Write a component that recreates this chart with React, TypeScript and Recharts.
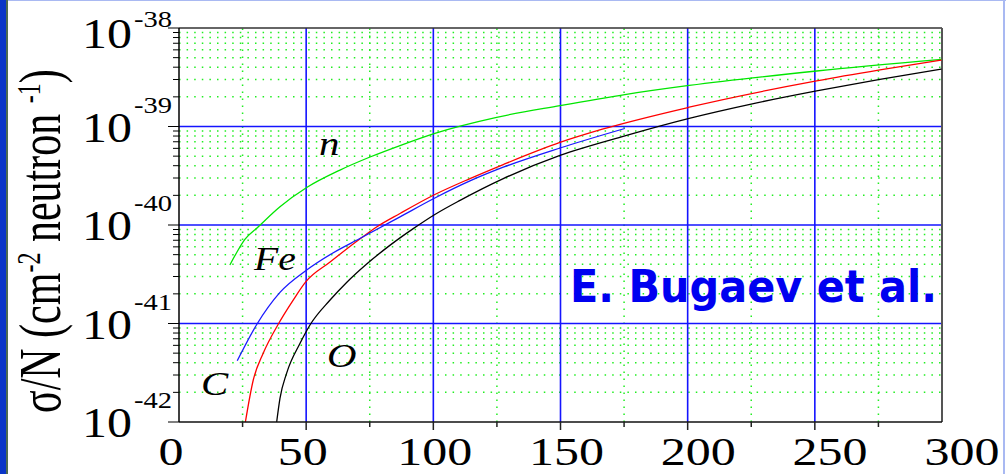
import React from 'react';
import { LineChart, Line, XAxis, YAxis, ReferenceLine } from 'recharts';

// neutrino cross section per neutron, cm^2, vs energy (GeV)
const nX = [20.0, 22.8, 25.9, 31.2, 39.7, 50.2, 63.3, 75.1, 86.9, 100.6, 124.9, 149.8, 175.3, 200.6, 250.7, 299.8];
const nSigma = [3.93e-41, 5.32e-41, 7.13e-41, 9.61e-41, 1.53e-40, 2.4e-40, 3.61e-40, 4.9e-40, 6.41e-40, 8.53e-40, 1.24e-39, 1.63e-39, 2.11e-39, 2.61e-39, 3.66e-39, 4.81e-39];

const cX = [26.1, 29.2, 33.1, 39.0, 44.9, 49.9, 59.4, 71.1, 77.7, 86.9, 100.6, 114.4, 127.5, 149.8, 166.8, 200.6, 250.7, 275.6, 299.8];
const cSigma = [1.0e-42, 2.67e-42, 4.98e-42, 9.82e-42, 1.73e-41, 2.66e-41, 4.21e-41, 7.21e-41, 9.55e-41, 1.31e-40, 2.04e-40, 2.96e-40, 4.11e-40, 6.89e-40, 9.44e-40, 1.57e-39, 2.9e-39, 3.75e-39, 4.73e-39];

const feX = [22.9, 30.5, 39.7, 50.2, 60.5, 71.1, 86.9, 100.6, 114.4, 127.5, 149.8, 175.3];
const feSigma = [4.19e-42, 9.72e-42, 2.07e-41, 3.49e-41, 5.2e-41, 7.29e-41, 1.21e-40, 1.88e-40, 2.8e-40, 3.86e-40, 6.05e-40, 9.55e-40];

const oX = [38.4, 39.7, 42.3, 47.6, 51.5, 59.4, 65.9, 73.8, 82.9, 92.1, 100.6, 110.5, 127.5, 149.8, 175.3, 200.6, 225.4, 250.7, 275.6, 299.8];
const oSigma = [1.0e-42, 1.74e-42, 3.12e-42, 6.3e-42, 9.66e-42, 1.73e-41, 2.61e-41, 4.02e-41, 6.21e-41, 9.19e-41, 1.28e-40, 1.78e-40, 2.96e-40, 5.09e-40, 8.04e-40, 1.21e-39, 1.7e-39, 2.3e-39, 3.01e-39, 3.82e-39];

const xTicks = [0, 25, 50, 75, 100, 125, 150, 175, 200, 225, 250, 275, 300];
const decades = [-42, -41, -40, -39, -38];

const toRows = (xs: number[], ys: number[]) => xs.map((x, i) => ({ x, s: ys[i] }));

function isDecade(v: number) {
  const lg = Math.log10(v);
  return Math.abs(lg - Math.round(lg)) < 1e-6;
}

const yTicks = decades.flatMap((d) =>
  d === -38 ? [10 ** d] : [1, 2, 3, 4, 5, 6, 7, 8, 9].map((k) => k * 10 ** d)
);
const minorRows = yTicks.filter((v) => !isDecade(v));
const majorRows = [1e-41, 1e-40, 1e-39];
const majorCols = [50, 100, 150, 200, 250];
const dottedCols = [25, 75, 125, 175, 225, 275];

const SERIF = '"Liberation Serif", "Times New Roman", serif';
const GREEN = '#22ee22';
const BLUE = '#1414ff';

function YTick(props: any) {
  const { x, y, payload } = props;
  const v = payload.value as number;
  const major = isDecade(v);
  const exp = Math.round(Math.log10(v));
  return (
    <g>
      <line x1={x - (major ? 11 : 6)} x2={x} y1={y} y2={y} stroke="#000" strokeWidth={1} />
      {major && (
        <>
          <text
            transform={`translate(${x - 47},${Math.max(y + 15, 48)}) scale(1.19,1)`}
            textAnchor="end"
            fontSize={42}
            fontFamily={SERIF}
            fill="#000"
          >
            10
          </text>
          <text
            transform={`translate(${x - 7},${Math.max(y - 14, 27)}) scale(1.19,1)`}
            textAnchor="end"
            fontSize={24}
            fontFamily={SERIF}
            fill="#000"
          >
            {String(exp)}
          </text>
        </>
      )}
    </g>
  );
}

function XTick(props: any) {
  const { x, y, payload } = props;
  const v = payload.value as number;
  const len = v === 0 || v === 300 ? 0 : v % 50 === 0 ? 8 : 5;
  return (
    <g>
      {len > 0 && <line x1={x} x2={x} y1={y} y2={y + len} stroke="#222" strokeWidth={1.5} />}
      {v % 50 === 0 && (
        <text
          transform={`translate(${x - 8 + v * 0.093},${y + 43}) scale(1.25,1)`}
          textAnchor="middle"
          fontSize={40}
          fontFamily={SERIF}
          fill="#000"
        >
          {v}
        </text>
      )}
    </g>
  );
}

export default function App() {
  return (
    <div style={{ position: 'fixed', left: 0, top: 0, width: 1006, height: 474, background: '#fff', overflow: 'hidden' }}>
      <div style={{ position: 'absolute', left: 0, top: 0, width: 6, height: 474, background: '#0a36c8' }} />
      <div style={{ position: 'absolute', left: 6, top: 0, width: 2, height: 474, background: '#4d6b52' }} />
      <div style={{ position: 'absolute', left: 8, top: 0, right: 0, height: 1, background: '#a9b9f2' }} />
      <div style={{ position: 'absolute', left: 1003, top: 0, width: 2, height: 474, background: '#a9b9f2' }} />

      <LineChart
        width={1006}
        height={474}
        margin={{ top: 28, right: 64, bottom: 0, left: 0 }}
        style={{ position: 'absolute', left: 0, top: 0 }}
      >
        <XAxis
          type="number"
          dataKey="x"
          domain={[0, 300]}
          allowDataOverflow
          ticks={xTicks}
          interval={0}
          tick={(p: any) => <XTick {...p} />}
          tickLine={false}
          tickSize={0}
          tickMargin={0}
          height={52}
          axisLine={{ stroke: '#111', strokeWidth: 1.5 }}
        />
        <YAxis
          type="number"
          scale="log"
          domain={[1e-42, 1e-38]}
          allowDataOverflow
          ticks={yTicks}
          interval={0}
          tick={(p: any) => <YTick {...p} />}
          tickLine={false}
          tickSize={0}
          tickMargin={0}
          width={179}
          axisLine={{ stroke: '#000', strokeWidth: 1.5 }}
        />

        {minorRows.map((v) => (
          <ReferenceLine key={`r${v}`} y={v} stroke={GREEN} strokeWidth={1.5} strokeDasharray="1.5 6.1" />
        ))}
        {dottedCols.map((v) => (
          <ReferenceLine key={`c${v}`} x={v} stroke={GREEN} strokeWidth={1.5} strokeDasharray="1.5 5.5" />
        ))}
        {majorRows.map((v) => (
          <ReferenceLine key={`R${v}`} y={v} stroke={BLUE} strokeWidth={1.6} />
        ))}
        {majorCols.map((v) => (
          <ReferenceLine key={`C${v}`} x={v} stroke={BLUE} strokeWidth={1.6} />
        ))}
        <ReferenceLine y={1e-38} stroke="#333" strokeWidth={1.5} />
        <ReferenceLine x={300} stroke="#555" strokeWidth={2} />

        <Line data={toRows(nX, nSigma)} dataKey="s" type="monotone" stroke="#00e600" strokeWidth={1.3} dot={false} isAnimationActive={false} />
        <Line data={toRows(cX, cSigma)} dataKey="s" type="monotone" stroke="#ff0000" strokeWidth={1.3} dot={false} isAnimationActive={false} />
        <Line data={toRows(feX, feSigma)} dataKey="s" type="monotone" stroke="#1a1aff" strokeWidth={1.3} dot={false} isAnimationActive={false} />
        <Line data={toRows(oX, oSigma)} dataKey="s" type="monotone" stroke="#000" strokeWidth={1.3} dot={false} isAnimationActive={false} />
      </LineChart>

      <svg width={1006} height={474} style={{ position: 'absolute', left: 0, top: 0, pointerEvents: 'none' }}>
        <text transform="translate(60,413) scale(1.4,1) rotate(-90)" fontSize={42} fontFamily={SERIF} fill="#000">
          σ/N (cm
          <tspan dy={-14} fontSize={24}>-2</tspan>
          <tspan dy={14}> neutron </tspan>
          <tspan dy={-14} fontSize={24}>-1</tspan>
          <tspan dy={14}>)</tspan>
        </text>

        <g fontFamily={SERIF} fontStyle="italic" fill="#000">
          <text transform="translate(319,155) scale(1.2,1)" fontSize={34}>n</text>
          <text transform="translate(254,270) scale(1.2,1)" fontSize={33}>Fe</text>
          <text transform="translate(201,395) scale(1.2,1)" fontSize={34}>C</text>
          <text transform="translate(327,367) scale(1.2,1)" fontSize={34}>O</text>
        </g>

        <text
          x={570}
          y={302}
          fontSize={44}
          fontWeight="bold"
          fontFamily='"DejaVu Sans", Verdana, sans-serif'
          fill="#0000f0"
          textLength={367}
          lengthAdjust="spacingAndGlyphs"
        >
          E. Bugaev et al.
        </text>
      </svg>
    </div>
  );
}
